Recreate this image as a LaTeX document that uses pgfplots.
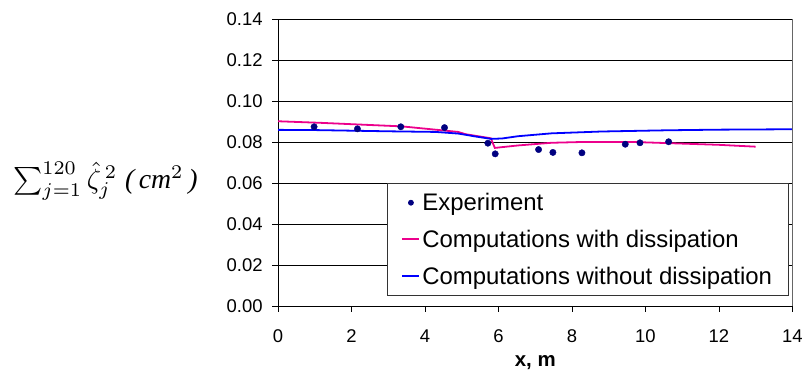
\documentclass[border=0pt]{standalone}
\usepackage{fontspec}
\setmainfont{Liberation Sans}
\newfontfamily\serifit{Liberation Serif}
\usepackage{graphicx}
\usepackage{pgfplots}
\pgfplotsset{compat=1.18}
\definecolor{navycol}{HTML}{000080}
\definecolor{blucol}{HTML}{0000FF}
\begin{document}
\begin{tikzpicture}
\begin{axis}[
  name=ax,
  scale only axis,
  width=516pt, height=288pt,
  xmin=0, xmax=14, ymin=0, ymax=0.14,
  xtick={0,2,...,14},
  ytick={0,0.02,0.04,0.06,0.08,0.10,0.12,0.14},
  /pgf/number format/assume math mode=true,
  y tick label style={/pgf/number format/fixed, /pgf/number format/fixed zerofill, /pgf/number format/precision=2, xshift=-6pt},
  scaled y ticks=false,
  axis lines=left,
  axis line style={-, black, line width=0.9pt},
  tick align=outside,
  major tick length=6pt,
  tick style={black, line width=0.8pt},
  ymajorgrids,
  grid style={black, line width=0.7pt},
  ticklabel style={font=\fontsize{18.5}{22}\selectfont},
  x tick label style={yshift=-14pt},
  clip=false,
  legend cell align=left,
  legend style={at={(axis description cs:0.9923,0.0347)}, anchor=south east,
    draw=black!80, line width=0.8pt, fill=white, font=\fontsize{24}{28}\selectfont,
    inner xsep=14pt, inner ysep=8pt, row sep=14pt,
    /tikz/every even column/.append style={column sep=7pt}},
]
\addplot[only marks, mark=*, mark size=3.2pt, color=navycol,
  legend image code/.code={\draw[draw=navycol, fill=navycol, mark=*, mark size=2.5pt] plot coordinates {(8.5pt,0pt)};}]
  coordinates {
  (0.98,0.0874) (2.16,0.0864) (3.34,0.0874) (4.53,0.0870) (5.71,0.0794)
  (5.91,0.0742) (7.09,0.0763) (7.48,0.0749) (8.27,0.0747) (9.45,0.0789)
  (9.85,0.0796) (10.63,0.0801)
  };
\addlegendentry{Experiment}
\addplot[draw=magenta, line width=1.8pt, mark=none,
  legend image code/.code={\draw[draw=magenta, line width=2pt] (0pt,0pt) -- (17pt,0pt);}]
  coordinates {
  (0,0.0901) (1.2,0.0893) (2.47,0.0883) (3.37,0.0876) (4.28,0.0860) (4.9,0.0849)
  (5.1,0.0838) (5.79,0.0818) (5.9,0.0771) (6.53,0.0783) (7.44,0.0796)
  (8.3,0.0800) (9.66,0.0800) (11.0,0.0792) (12.0,0.0786) (13.0,0.0777)
  };
\addlegendentry{Computations with dissipation}
\addplot[draw=blucol, line width=1.8pt, mark=none,
  legend image code/.code={\draw[draw=blucol, line width=1.8pt] (0pt,0pt) -- (17pt,0pt);}]
  coordinates {
  (0,0.0859) (1,0.0858) (2,0.0855) (3,0.0852) (4.28,0.0849) (4.9,0.0841)
  (5.4,0.0826) (5.8,0.0815) (6.1,0.0817) (6.53,0.0828) (7.44,0.0842)
  (8.8,0.0851) (10.6,0.0857) (12,0.0860) (14,0.0862)
  };
\addlegendentry{Computations without dissipation}
\draw[black!60, line width=0.9pt] (rel axis cs:1,0) -- (rel axis cs:1,1);
\node[anchor=base, inner sep=0pt, font=\fontsize{20.5}{24}\selectfont\bfseries] at ([yshift=-61pt]rel axis cs:0.5,0) {x, m};
\node[anchor=west, inner sep=0pt] at (rel axis cs:-0.5155,0.434)
  {\resizebox{185pt}{!}{$\sum_{j=1}^{120}\hat{\zeta}_j^{\,2}$\ {\serifit\itshape (\,cm$^{2}$\,)}}};
\end{axis}
\path ([shift={(-279pt,-67pt)}]ax.south west) rectangle ([shift={(11pt,19pt)}]ax.north east);
\end{tikzpicture}
\end{document}
